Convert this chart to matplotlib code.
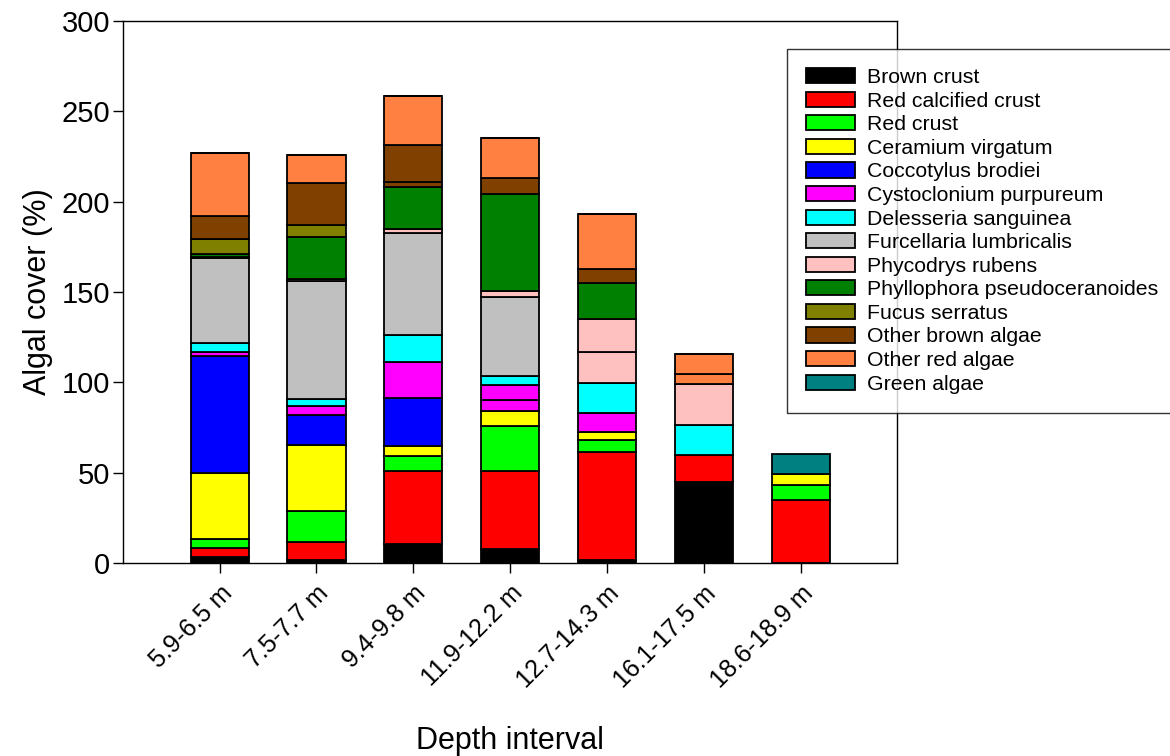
import matplotlib.pyplot as plt
import numpy as np

plt.rcParams['font.family'] = ['Liberation Sans', 'DejaVu Sans']

depths = ['5.9-6.5 m', '7.5-7.7 m', '9.4-9.8 m', '11.9-12.2 m',
          '12.7-14.3 m', '16.1-17.5 m', '18.6-18.9 m']

brown_crust = [3.5, 1.7, 10.5, 7.6, 1.5, 45.0, 0.0]
red_calcified_crust = [5.0, 9.7, 40.4, 43.5, 59.8, 14.9, 34.9]
red_crust = [4.8, 17.6, 8.3, 24.7, 6.6, 0.0, 8.3]
ceramium = [36.7, 36.3, 5.5, 8.5, 4.8, 0.0, 6.2]
coccotylus = [64.7, 16.6, 26.8, 0.0, 0.0, 0.0, 0.0]
cystoclonium = [2.1, 5.0, 19.6, 5.9, 10.5, 0.0, 0.0]
cystoclonium_2 = [0.0, 0.0, 0.0, 8.3, 0.0, 0.0, 0.0]
delesseria = [5.1, 4.0, 15.1, 5.2, 16.6, 16.5, 0.0]
furcellaria = [46.7, 65.1, 56.6, 43.3, 0.0, 0.0, 0.0]
phycodrys = [0.9, 1.3, 2.2, 3.5, 17.1, 22.5, 0.0]
phycodrys_2 = [0.0, 0.0, 0.0, 0.0, 18.1, 0.0, 0.0]
phyllophora = [1.5, 23.3, 23.3, 53.5, 20.1, 0.0, 0.0]
fucus = [8.3, 6.3, 0.0, 0.0, 0.0, 0.0, 0.0]
other_brown_2 = [0.0, 0.0, 2.4, 0.0, 0.0, 0.0, 0.0]
other_brown = [12.6, 23.2, 20.6, 8.9, 7.8, 0.0, 0.0]
other_red = [34.8, 15.9, 27.0, 22.5, 30.3, 5.5, 0.0]
other_red_2 = [0.0, 0.0, 0.0, 0.0, 0.0, 11.4, 0.0]
green_algae = [0.0, 0.0, 0.0, 0.0, 0.0, 0.0, 10.9]

# (label, values, colour); label None = second record of same taxon, kept out of legend
SERIES = [
    ('Brown crust', brown_crust, '#000000'),
    ('Red calcified crust', red_calcified_crust, '#FF0000'),
    ('Red crust', red_crust, '#00FF00'),
    ('Ceramium virgatum', ceramium, '#FFFF00'),
    ('Coccotylus brodiei', coccotylus, '#0000FF'),
    ('Cystoclonium purpureum', cystoclonium, '#FF00FF'),
    (None, cystoclonium_2, '#FF00FF'),
    ('Delesseria sanguinea', delesseria, '#00FFFF'),
    ('Furcellaria lumbricalis', furcellaria, '#C0C0C0'),
    ('Phycodrys rubens', phycodrys, '#FFC0C0'),
    (None, phycodrys_2, '#FFC0C0'),
    ('Phyllophora pseudoceranoides', phyllophora, '#008000'),
    ('Fucus serratus', fucus, '#808000'),
    (None, other_brown_2, '#804000'),
    ('Other brown algae', other_brown, '#804000'),
    ('Other red algae', other_red, '#FF8040'),
    (None, other_red_2, '#FF8040'),
    ('Green algae', green_algae, '#008080'),
]


def plot_stack(ax):
    x = np.arange(len(depths))
    bottom = np.zeros(len(depths))
    handles = {}
    for label, values, color in SERIES:
        vals = np.array(values, dtype=float)
        bars = ax.bar(x, vals, width=0.6, bottom=bottom, color=color,
                      edgecolor='black', linewidth=1.3)
        if label is not None:
            handles[label] = bars
        bottom += vals
    return x, handles


def main():
    fig = plt.figure(figsize=(11.7, 7.56), dpi=100)
    ax = fig.add_axes([0.105, 0.2553, 0.662, 0.7169])

    x, handles = plot_stack(ax)

    ax.set_xlim(-1, len(depths))
    ax.set_ylim(0, 300)
    ax.set_yticks(np.arange(0, 301, 50))
    ax.set_xticks(x)
    ax.set_xticklabels(depths, rotation=45, ha='right', rotation_mode='anchor',
                       fontsize=18)
    ax.tick_params(axis='y', labelsize=21, length=7, width=1, direction='out', pad=2)
    ax.tick_params(axis='x', length=7, width=1, direction='out', pad=6)
    for spine in ax.spines.values():
        spine.set_linewidth(1)

    ax.set_ylabel('Algal cover (%)', fontsize=22)
    ax.yaxis.set_label_coords(-0.09, 0.5)
    ax.set_xlabel('Depth interval', fontsize=22)
    ax.xaxis.set_label_coords(0.5, -0.30)

    leg = fig.legend(list(handles.values()), list(handles.keys()),
                     loc='upper left', bbox_to_anchor=(787 / 1170, 1 - 49 / 756),
                     borderaxespad=0, fontsize=15.3, frameon=True, fancybox=False,
                     edgecolor='black', handlelength=2.3, handleheight=0.72,
                     handletextpad=0.55, labelspacing=0.215, borderpad=0.9)
    leg.get_frame().set_linewidth(1)

    fig.savefig('out.png', dpi=100)


if __name__ == '__main__':
    main()
